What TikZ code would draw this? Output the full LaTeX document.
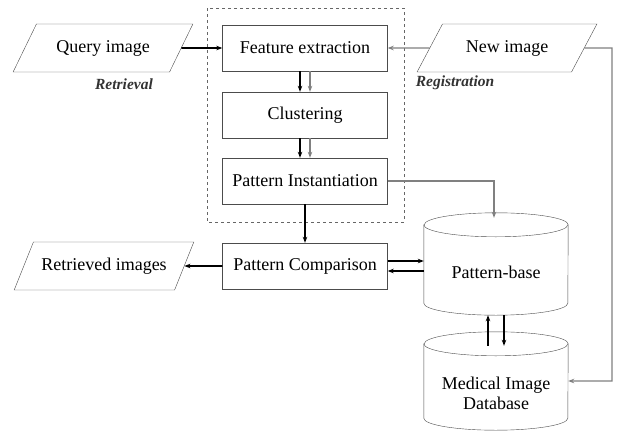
\documentclass[tikz,border=0pt]{standalone}
\usepackage{fontspec}
\setmainfont{Liberation Serif}[ItalicFont={Liberation Serif Italic},BoldItalicFont={Liberation Serif Bold Italic}]
\usetikzlibrary{shapes.geometric,arrows.meta}

\begin{document}
\begin{tikzpicture}[x=1pt,y=-1pt,>={Stealth[length=6pt,width=4.5pt]},
        proc/.style={draw=black!70,minimum width=165pt,minimum height=46pt,font=\fontsize{18}{20}\selectfont},
        io/.style={draw=black!70,trapezium,trapezium stretches=true,trapezium left angle=52,trapezium right angle=128,minimum width=180pt,minimum height=48pt,font=\fontsize{18}{20}\selectfont},
        db/.style={minimum width=144pt,inner sep=0pt},
        dbtext/.style={font=\fontsize{18}{20}\selectfont,align=center},
        tag/.style={font=\fontsize{15.5}{18}\selectfont\bfseries\itshape,text=black!80},
        blk/.style={line width=1.6pt,->},
        gry/.style={line width=1.4pt,->,black!50}]
        \useasboundingbox (0,0) rectangle (624,434);
        \node[io](query)at(103,48) {Query image};
        \node[io](newimg)at(507,48) {New image};
        \node[io](retrieved)at(104,266) {Retrieved images};
        \node[proc](feat)at(305,48) {Feature extraction};
        \node[proc](clust)at(305,115) {Clustering};
        \node[proc](inst)at(305,181) {Pattern Instantiation};
        \node[proc](comp)at(305,266) {Pattern Comparison};
        \node[db,minimum height=102pt](pbase)at(496,264) {};
        \node[db,minimum height=98pt](mid)at(496,381) {};
        % cylinders
        \foreach \n in {pbase,mid}{
            \draw[black!70,fill=white]([yshift=-12pt]\n.north west) -- ([yshift=12pt]\n.south west)
                arc[start angle=180,end angle=0,x radius=72,y radius=12] -- ([yshift=-12pt]\n.north east)
                arc[start angle=0,end angle=-180,x radius=72,y radius=12] -- cycle;
            \draw[black!70]([yshift=-12pt]\n.north west) arc[start angle=180,end angle=0,x radius=72,y radius=12];
        }
        \node[dbtext](pbasetext)at(496,272) {Pattern-base};
        \node[dbtext](midtext)at(496,393) {Medical Image\\Database};
        \node[tag](retr)at(124,84) {Retrieval};
        \node[tag](regi)at(455,83) {Registration};
        \coordinate (corner) at (612,48);
        
        \draw[dashed,black!60] (207,8) rectangle (404,222);
        \draw[blk](query.east) -- (feat.west);
        \draw[gry](newimg.west) -- (feat.east);
        \draw[blk]([xshift=-5pt]feat.south) -- ([xshift=-5pt]clust.north);
        \draw[gry]([xshift=5pt]feat.south) -- ([xshift=5pt]clust.north);
        \draw[blk]([xshift=-5pt]clust.south) -- ([xshift=-5pt]inst.north);
        \draw[gry]([xshift=5pt]clust.south) -- ([xshift=5pt]inst.north);
        \draw[gry](inst.east) -| ([xshift=-2pt,yshift=-5pt]pbase.north);
        \draw[blk](inst.south) -- (comp.north);
        \draw[blk](comp.west) -- (retrieved.east);
        \draw[blk]([yshift=5pt]comp.east) -- ([yshift=5pt]comp.east -| pbase.west);
        \draw[blk]([yshift=-5pt]comp.east -| pbase.west) -- ([yshift=-5pt]comp.east);
        \draw[blk]([xshift=-8pt,yshift=-14pt]mid.north) -- ([xshift=-8pt]pbase.south);
        \draw[blk]([xshift=8pt]pbase.south) -- ([xshift=8pt,yshift=-14pt]mid.north);
        \draw[gry](newimg.east) -- (corner) |- (mid.east);
    \end{tikzpicture}
\end{document}
